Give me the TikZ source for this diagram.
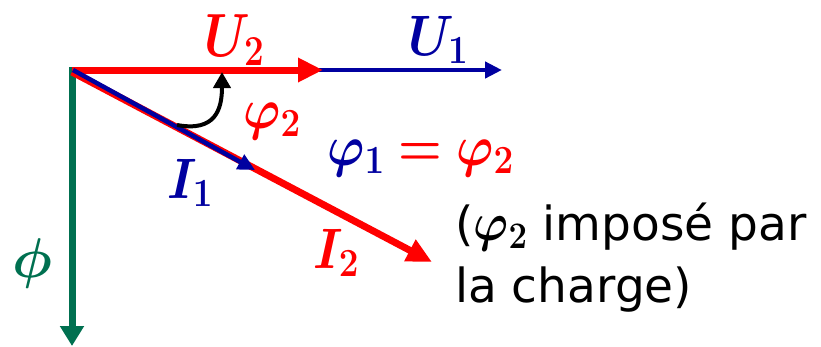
\RequirePackage{fix-cm}
\documentclass[tikz,border=0pt]{standalone}
\usepackage{graphicx}
\usepackage{amsmath,bm}
\usepackage{fontspec}
\newfontfamily\tfont{DejaVu Sans}
\usetikzlibrary{arrows.meta}
\definecolor{cred}{RGB}{255,0,0}
\definecolor{cblue}{RGB}{0,0,160}
\definecolor{cgreen}{RGB}{0,112,80}
\newcommand\tallm[1]{\scalebox{1}[1.14]{#1}}
\begin{document}
\begin{tikzpicture}[x=1pt,y=-1pt,
  lbl/.style={inner sep=0pt, anchor=base west, font=\fontsize{50}{60}\selectfont},
  txt/.style={inner sep=0pt, anchor=base west, font=\tfont\fontsize{47}{60}\selectfont},
  redvec/.style={draw=cred, line width=7pt, -{Triangle[length=25pt,width=23pt]}},
  bluevec/.style={draw=cblue, line width=4.5pt, -{Triangle[length=17pt,width=16pt]}},
  greenvec/.style={draw=cgreen, line width=7pt, -{Triangle[length=20pt,width=23pt]}},
  anglearrow/.style={draw=black, line width=4pt, -{Triangle[length=16pt,width=17pt]}}]
\useasboundingbox (0,0) rectangle (821,346);
% points
\coordinate (O) at (72,70);
\coordinate (Ftop) at (72,67);
\coordinate (Fend) at (72,346);
\coordinate (U2end) at (323,70);
\coordinate (U1end) at (502,70);
\coordinate (I2start) at (72,72);
\coordinate (I2end) at (432,262);
\coordinate (I1start) at (73,70);
\coordinate (I1end) at (255,170);
\coordinate (A1) at (177,125);
\coordinate (A2) at (222,72);
% vectors
\draw[greenvec] (Ftop) -- (Fend);
\draw[bluevec] (O) -- (U1end);
\draw[redvec] (O) -- (U2end);
\draw[redvec] (I2start) -- (I2end);
\draw[bluevec] (I1start) -- (I1end);
\draw[anglearrow] (A1) .. controls (215,132) and (222,110) .. (A2);
% labels
\node[lbl, text=cred] (lU2) at (204,56) {\scalebox{1}[1.22]{$\bm{U_2}$}};
\node[lbl, text=cblue] (lU1) at (408,55) {\tallm{$\bm{U_1}$}};
\node[lbl, text=cred] (lphi2) at (243,128) {\tallm{$\bm{\varphi_2}$}};
\node[lbl] (lphi12) at (327,165) {\tallm{$\textcolor{cblue}{\bm{\varphi_1}}\mathrel{\textcolor{cred}{\bm{=}}}\textcolor{cred}{\bm{\varphi_2}}$}};
\node[lbl, text=cblue] (lI1) at (167,198) {\tallm{$\bm{I_1}$}};
\node[lbl, text=cred] (lI2) at (313,268) {\tallm{$\bm{I_2}$}};
\node[lbl, text=cgreen, font=\fontsize{56}{60}\selectfont] (lphi) at (12,277) {$\bm{\phi}$};
\node[txt] (t1) at (455,240) {(\tallm{$\bm{\varphi_2}$} imposé par};
\node[txt] (t2) at (455,302) {la charge)};
\end{tikzpicture}
\end{document}
